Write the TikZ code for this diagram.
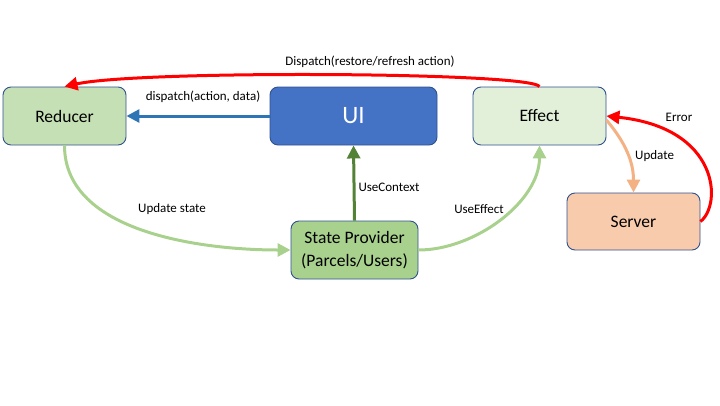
\documentclass[tikz,border=0pt]{standalone}
\usepackage{fontspec}
\setmainfont{Carlito}
\usetikzlibrary{arrows.meta}
\definecolor{bord}{HTML}{2F528F}
\definecolor{redfill}{HTML}{C5E0B4}
\definecolor{uifill}{HTML}{4472C4}
\definecolor{efffill}{HTML}{E2F0D9}
\definecolor{spfill}{HTML}{A9D18E}
\definecolor{srvfill}{HTML}{F8CBAD}
\definecolor{bluearr}{HTML}{2E75B6}
\definecolor{lgarr}{HTML}{A9D18E}
\definecolor{dgarr}{HTML}{538135}
\definecolor{orarr}{HTML}{F4B183}
\definecolor{redarr}{HTML}{FF0000}
\tikzset{
  box/.style={draw=bord, line width=0.9pt, rounded corners=8pt, font=\fontsize{17.5}{20}\selectfont, align=center, inner sep=0pt},
  conn/.style={line width=3pt, -{Triangle[length=13pt,width=13pt]}},
  lbl/.style={font=\fontsize{13}{15}\selectfont, inner sep=0pt}
}
\begin{document}
\begin{tikzpicture}[x=1pt,y=-1pt]
\useasboundingbox (0,0) rectangle (720,405);
\node[box, fill=redfill, minimum width=123pt, minimum height=58pt] (red) at (64.5,116) {Reducer};
\node[box, fill=uifill, text=white, minimum width=167pt, minimum height=58pt, font=\fontsize{25}{28}\selectfont] (ui) at (353.5,116) {UI};
\node[box, fill=efffill, minimum width=133pt, minimum height=58pt] (eff) at (539.5,116) {Effect};
\node[box, fill=spfill, minimum width=127pt, minimum height=58pt, font=\fontsize{17.5}{23}\selectfont] (sp) at (354.5,250) {State Provider\\(Parcels/Users)};
\node[box, fill=srvfill, minimum width=133pt, minimum height=57pt] (srv) at (633.5,221.5) {Server};

\coordinate (effo) at ([yshift=-4pt]eff.east);

\draw[conn, redarr] (eff.north) .. controls (530,72) and (140,70) .. (red.north);
\draw[conn, bluearr] (ui.west) -- (red.east);
\draw[conn, lgarr] (red.south) to[out=-90, in=180, looseness=0.9] (sp.west);
\draw[conn, dgarr] (sp.north) -- (ui.south);
\draw[conn, lgarr] (sp.east) to[out=0, in=-90, looseness=0.9] (eff.south);
\draw[conn, orarr] (effo) to[out=-50, in=90] (srv.north);
\draw[conn, redarr] (srv.east) .. controls (722,205) and (720,128) .. (eff.east);

\node[lbl] (l1) at (370,62) {Dispatch(restore/refresh action)};
\node[lbl] (l2) at (203,97) {dispatch(action, data)};
\node[lbl] (l3) at (172,209) {Update state};
\node[lbl] (l4) at (389,187) {UseContext};
\node[lbl] (l5) at (479,209) {UseEffect};
\node[lbl, anchor=west] (l6) at (635,156) {Update};
\node[lbl] (l7) at (679,117) {Error};
\end{tikzpicture}
\end{document}
